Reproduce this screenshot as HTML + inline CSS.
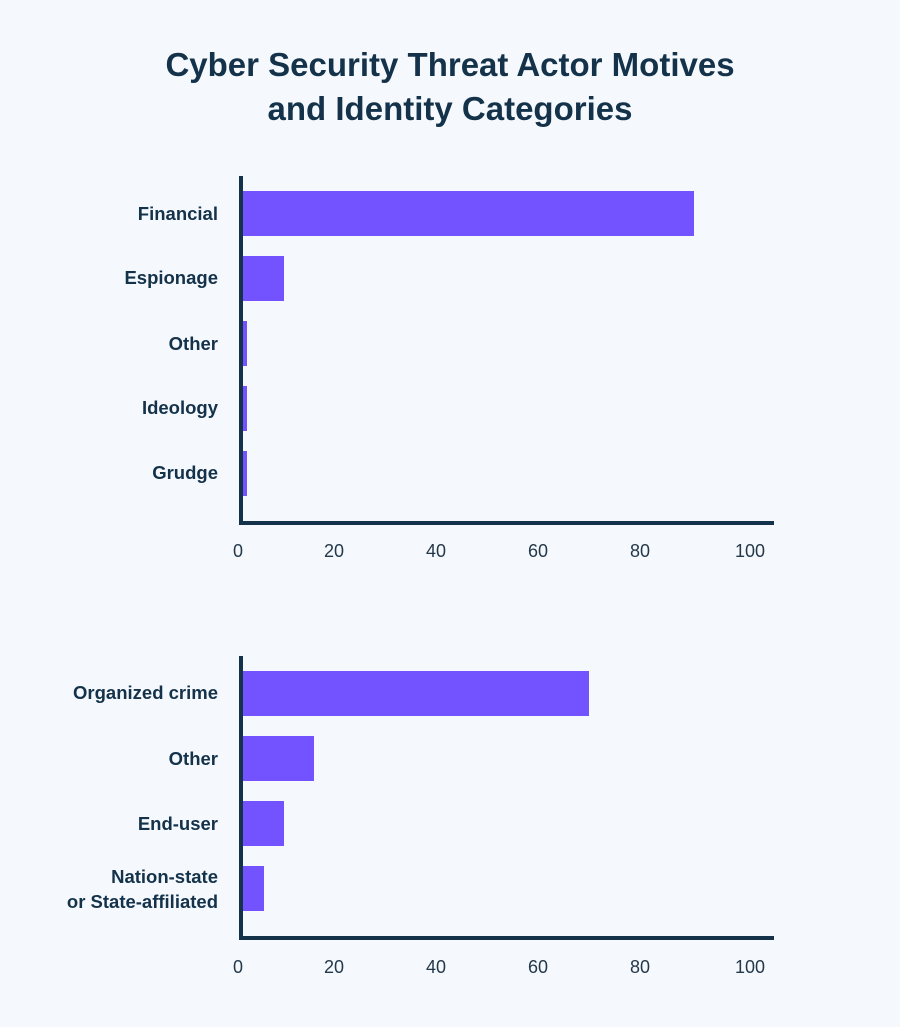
<!DOCTYPE html>
<html><head><meta charset="utf-8"><style>
html,body{margin:0;padding:0;background:#f5f9fd;}
svg{display:block}
</style></head><body>
<svg width="900" height="1027" viewBox="0 0 900 1027" xmlns="http://www.w3.org/2000/svg">
<rect width="900" height="1027" fill="#f5f9fd"/>
<g font-family="Liberation Sans, sans-serif" fill="#14324a">
<text x="450" y="76" font-size="33" font-weight="bold" text-anchor="middle">Cyber Security Threat Actor Motives</text>
<text x="450" y="120" font-size="33" font-weight="bold" text-anchor="middle">and Identity Categories</text>
<g font-size="18.5" font-weight="bold" text-anchor="end">
<text x="218" y="220">Financial</text>
<text x="218" y="284">Espionage</text>
<text x="218" y="350">Other</text>
<text x="218" y="414">Ideology</text>
<text x="218" y="479">Grudge</text>
<text x="218" y="699">Organized crime</text>
<text x="218" y="765">Other</text>
<text x="218" y="830">End-user</text>
<text x="218" y="883">Nation-state</text>
<text x="218" y="908">or State-affiliated</text>
</g>
<g font-size="18" text-anchor="middle" fill="#24384a">
<text x="238" y="557">0</text><text x="334" y="557">20</text><text x="436" y="557">40</text><text x="538" y="557">60</text><text x="640" y="557">80</text><text x="750" y="557">100</text>
<text x="238" y="973">0</text><text x="334" y="973">20</text><text x="436" y="973">40</text><text x="538" y="973">60</text><text x="640" y="973">80</text><text x="750" y="973">100</text>
</g>
</g>
<g fill="#7352ff">
<rect x="243" y="191" width="451" height="45"/>
<rect x="243" y="256" width="41" height="45"/>
<rect x="243" y="321" width="4" height="45"/>
<rect x="243" y="386" width="4" height="45"/>
<rect x="243" y="451" width="4" height="45"/>
<rect x="243" y="671" width="346" height="45"/>
<rect x="243" y="736" width="71" height="45"/>
<rect x="243" y="801" width="41" height="45"/>
<rect x="243" y="866" width="21" height="45"/>
</g>
<g fill="#14324a">
<rect x="239" y="176" width="4" height="349"/>
<rect x="239" y="521" width="535" height="4"/>
<rect x="239" y="656" width="4" height="284"/>
<rect x="239" y="936" width="535" height="4"/>
</g>
</svg>
</body></html>
